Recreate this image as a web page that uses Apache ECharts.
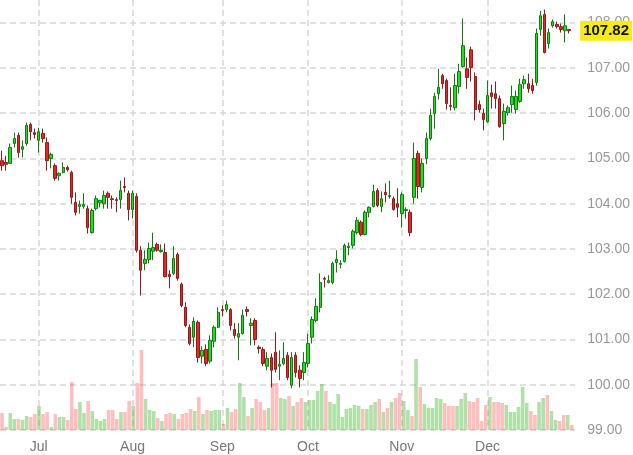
<!DOCTYPE html>
<html>
<head>
<meta charset="utf-8">
<script src="https://cdn.jsdelivr.net/npm/echarts@6/dist/echarts.min.js"></script>
<style>
  html, body { margin: 0; padding: 0; background: #fff; }
  #chart { width: 633px; height: 455px; }
</style>
</head>
<body>
<div id="chart"></div>
<script>
// trading days run from startDay to endDay (weekdays only)
const startDay = '2013-06-18';
const endDay = '2013-12-31';
const monthNames = ['Jan', 'Feb', 'Mar', 'Apr', 'May', 'Jun', 'Jul', 'Aug', 'Sep', 'Oct', 'Nov', 'Dec'];
const yTicks = { min: 99, max: 108.5, step: 1 };

const opens = [
  104.95, 104.91, 104.89, 105.33, 105.51, 105.20, 105.33, 105.75, 105.57, 105.40,
  105.55, 105.35, 105.00, 104.84, 104.62, 104.69, 104.80, 104.69, 104.03, 103.94,
  103.94, 103.89, 103.36, 103.89, 104.02, 104.00, 104.23, 104.11, 104.09, 104.09,
  104.38, 104.23, 103.87, 104.16, 102.97, 102.68, 102.77, 102.95, 103.10, 102.94,
  102.92, 102.44, 102.46, 102.88, 102.22, 101.71, 101.27, 101.05, 101.38, 100.63,
  100.78, 100.52, 100.96, 101.27, 101.66, 101.66, 101.66, 101.22, 101.05, 101.13,
  101.66, 101.31, 101.42, 100.83, 100.78, 100.41, 100.60, 100.72, 100.41, 100.47,
  100.65, 99.99, 100.65, 100.32, 100.27, 100.47, 101.05, 101.42, 101.71, 102.35,
  102.26, 102.26, 102.70, 102.66, 102.72, 103.03, 103.08, 103.36, 103.59, 103.32,
  103.81, 103.94, 104.29, 103.94, 104.25, 104.16, 104.11, 104.00, 103.78, 103.85,
  103.81, 104.14, 105.11, 104.36, 105.00, 105.44, 105.99, 106.43, 106.83, 106.72,
  106.17, 106.12, 106.59, 107.03, 106.98, 107.40, 106.81, 106.19, 105.99, 105.81,
  106.45, 106.43, 106.32, 105.77, 106.01, 106.19, 106.08, 106.26, 106.65, 106.65,
  106.61, 106.68, 107.85, 108.18, 107.54, 107.93, 107.96, 107.91, 107.82, 107.85
];
const closes = [
  104.84, 104.87, 105.24, 105.44, 105.13, 105.26, 105.73, 105.59, 105.53, 105.59,
  105.44, 104.95, 105.09, 104.56, 104.67, 104.80, 104.75, 104.14, 103.81, 103.98,
  103.98, 103.47, 103.85, 104.11, 104.07, 104.18, 104.14, 104.09, 104.07, 104.29,
  104.36, 103.87, 104.23, 102.97, 102.53, 102.77, 103.01, 103.03, 102.97, 102.97,
  102.39, 102.39, 102.79, 102.35, 101.75, 101.31, 100.91, 101.40, 100.60, 100.76,
  100.47, 100.98, 101.27, 101.60, 101.64, 101.77, 101.31, 101.09, 101.13, 101.53,
  101.62, 101.36, 101.00, 100.80, 100.47, 100.58, 100.32, 100.34, 100.45, 100.58,
  100.16, 100.60, 100.27, 100.14, 100.49, 100.91, 101.44, 101.73, 102.26, 102.33,
  102.30, 102.68, 102.77, 102.68, 103.08, 103.06, 103.39, 103.63, 103.32, 103.81,
  103.92, 104.27, 103.96, 104.11, 104.20, 104.18, 103.87, 103.92, 104.20, 103.87,
  103.36, 105.00, 104.38, 104.89, 105.44, 105.95, 106.37, 106.57, 106.65, 106.21,
  106.15, 106.61, 106.92, 107.49, 106.79, 107.01, 106.08, 106.08, 105.86, 106.39,
  106.37, 106.32, 105.70, 106.04, 106.12, 106.37, 106.37, 106.63, 106.74, 106.54,
  106.50, 107.76, 108.15, 107.34, 107.78, 108.02, 107.91, 107.85, 107.93, 107.82
];
const lows = [
  104.73, 104.73, 104.89, 105.24, 105.02, 105.02, 105.28, 105.40, 105.44, 105.13,
  105.35, 104.73, 104.78, 104.51, 104.51, 104.67, 104.71, 104.00, 103.74, 103.78,
  103.89, 103.34, 103.34, 103.85, 103.92, 103.89, 103.89, 103.89, 103.81, 103.89,
  104.25, 103.63, 103.67, 102.92, 101.97, 102.53, 102.68, 102.75, 102.94, 102.92,
  102.37, 102.13, 102.42, 102.30, 101.71, 101.27, 100.87, 100.83, 100.49, 100.47,
  100.41, 100.47, 100.83, 101.25, 101.51, 101.60, 101.20, 101.02, 100.54, 101.11,
  101.51, 100.87, 100.87, 100.69, 100.41, 100.32, 99.94, 100.27, 100.10, 100.43,
  100.10, 99.92, 100.16, 99.94, 100.10, 100.38, 100.91, 101.38, 101.60, 102.15,
  102.24, 102.22, 102.48, 102.57, 102.70, 102.86, 103.01, 103.32, 103.28, 103.30,
  103.70, 103.92, 103.92, 103.81, 104.03, 104.11, 103.85, 103.70, 103.47, 103.67,
  103.28, 104.00, 104.11, 104.25, 104.87, 105.40, 105.66, 106.30, 106.54, 106.08,
  106.06, 106.06, 106.43, 107.01, 106.54, 106.70, 105.84, 106.01, 105.62, 105.79,
  106.10, 106.10, 105.68, 105.40, 105.95, 106.01, 105.99, 106.23, 106.54, 106.45,
  106.43, 106.61, 107.71, 107.32, 107.43, 107.89, 107.87, 107.78, 107.56, 107.76
];
const highs = [
  105.17, 105.06, 105.33, 105.57, 105.57, 105.40, 105.79, 105.79, 105.66, 105.68,
  105.66, 105.46, 105.13, 104.89, 104.69, 104.91, 104.84, 104.73, 104.25, 104.07,
  104.23, 103.96, 103.89, 104.18, 104.09, 104.29, 104.27, 104.18, 104.14, 104.51,
  104.58, 104.29, 104.29, 104.23, 103.06, 102.97, 103.14, 103.36, 103.14, 103.10,
  103.12, 102.53, 103.06, 102.92, 102.26, 101.82, 101.33, 101.49, 101.42, 100.85,
  100.89, 101.09, 101.31, 101.71, 101.75, 101.86, 101.69, 101.36, 101.36, 101.66,
  101.73, 101.47, 101.47, 100.87, 100.83, 100.72, 100.69, 101.16, 100.76, 100.94,
  100.72, 100.72, 100.72, 100.43, 100.72, 101.13, 101.51, 101.91, 102.46, 102.39,
  102.42, 102.72, 102.97, 102.75, 103.12, 103.14, 103.43, 103.70, 103.63, 103.85,
  103.94, 104.42, 104.34, 104.27, 104.45, 104.51, 104.16, 104.34, 104.25, 103.92,
  103.87, 105.35, 105.17, 105.00, 105.57, 106.10, 106.45, 106.98, 106.87, 106.76,
  106.57, 106.87, 107.09, 108.09, 107.23, 107.47, 106.90, 106.28, 106.10, 106.72,
  106.63, 106.70, 106.39, 106.21, 106.17, 106.61, 106.50, 106.76, 106.83, 106.87,
  106.76, 107.87, 108.26, 108.29, 107.87, 108.07, 108.02, 107.98, 108.18, 107.85
];
const volumes = [
  17, 3, 17, 11, 11, 10, 14, 13, 16, 24,
  16, 18, 3, 16, 13, 13, 10, 48, 21, 28,
  17, 29, 19, 11, 9, 11, 20, 20, 11, 18,
  18, 29, 24, 47, 80, 31, 20, 19, 12, 9,
  16, 17, 16, 11, 16, 17, 21, 19, 33, 16,
  20, 19, 20, 20, 6, 22, 18, 21, 47, 33,
  14, 22, 31, 28, 20, 22, 47, 47, 32, 31,
  34, 24, 28, 32, 28, 30, 30, 39, 46, 39,
  28, 26, 36, 13, 21, 22, 25, 24, 21, 21,
  25, 28, 31, 18, 22, 28, 32, 37, 29, 20,
  14, 71, 43, 26, 22, 22, 32, 31, 27, 24,
  24, 24, 31, 37, 29, 28, 32, 9, 25, 33,
  28, 28, 27, 25, 18, 18, 23, 43, 27, 19,
  15, 28, 32, 35, 19, 10, 9, 15, 15, 5
];

// build weekday list
const days = [];
for (let d = new Date(startDay + 'T00:00:00Z'); d <= new Date(endDay + 'T00:00:00Z'); d.setUTCDate(d.getUTCDate() + 1)) {
  const wd = d.getUTCDay();
  if (wd !== 0 && wd !== 6) days.push(d.toISOString().slice(0, 10));
}
const isMonthStart = (i) => i > 0 && days[i].slice(5, 7) !== days[i - 1].slice(5, 7);

const candles = opens.map((o, i) => [o, closes[i], lows[i], highs[i]]);
const volBars = volumes.map((v, i) => ({
  value: v,
  itemStyle: { color: closes[i] >= opens[i] ? 'rgba(60,180,40,0.4)' : 'rgba(255,0,0,0.25)' }
}));
const lastClose = closes[closes.length - 1];

const chart = echarts.init(document.getElementById('chart'));
chart.setOption({
  animation: false,
  textStyle: { fontFamily: 'Liberation Sans, Arial, sans-serif' },
  grid: [
    { left: 0, right: 55, top: 0, bottom: 25 },
    { left: 0, right: 55, top: 340, bottom: 25 }
  ],
  xAxis: [
    {
      type: 'category',
      data: days,
      gridIndex: 0,
      boundaryGap: true,
      axisLine: { show: false },
      axisTick: { show: false },
      axisLabel: {
        interval: (i) => isMonthStart(i),
        formatter: (v) => monthNames[+v.slice(5, 7) - 1],
        color: '#777',
        fontSize: 14,
        margin: 10
      },
      splitLine: {
        show: true,
        interval: (i) => isMonthStart(i),
        alignWithLabel: true,
        lineStyle: { color: '#d8d8d8', type: [6, 4], width: 1.5 }
      }
    },
    {
      type: 'category',
      data: days,
      gridIndex: 1,
      boundaryGap: true,
      show: false
    }
  ],
  yAxis: [
    {
      type: 'value',
      gridIndex: 0,
      position: 'right',
      min: yTicks.min,
      max: yTicks.max,
      interval: yTicks.step,
      axisLine: { show: false },
      axisTick: { show: false },
      axisLabel: {
        formatter: (v) => v.toFixed(2),
        color: '#999',
        fontSize: 14,
        margin: 12,
        showMaxLabel: false
      },
      splitLine: {
        showMaxLine: false,
        lineStyle: { color: '#d8d8d8', type: [6, 4], width: 1.5 }
      }
    },
    {
      type: 'value',
      gridIndex: 1,
      min: 0,
      max: 90,
      show: false,
      splitLine: { show: false }
    }
  ],
  series: [
    {
      name: 'Volume',
      type: 'bar',
      xAxisIndex: 1,
      yAxisIndex: 1,
      barCategoryGap: '12%',
      z: 1,
      data: volBars
    },
    {
      name: 'Price',
      type: 'candlestick',
      xAxisIndex: 0,
      yAxisIndex: 0,
      barWidth: '72%',
      z: 3,
      itemStyle: {
        color: '#22dd22',
        color0: '#ee2222',
        borderColor: '#137a13',
        borderColor0: '#8a1f1f',
        borderWidth: 1
      },
      data: candles,
      markLine: {
        symbol: 'none',
        silent: true,
        z: 10,
        lineStyle: { color: 'rgba(0,0,0,0)', width: 1, type: 'solid' },
        label: {
          show: true,
          position: 'end',
          distance: 5,
          formatter: lastClose.toFixed(2),
          backgroundColor: '#f7eb14',
          color: '#111',
          fontWeight: 'bold',
          fontSize: 15,
          padding: [3, 3, 2, 3]
        },
        data: [{ yAxis: lastClose }]
      }
    }
  ]
});
</script>
</body>
</html>
